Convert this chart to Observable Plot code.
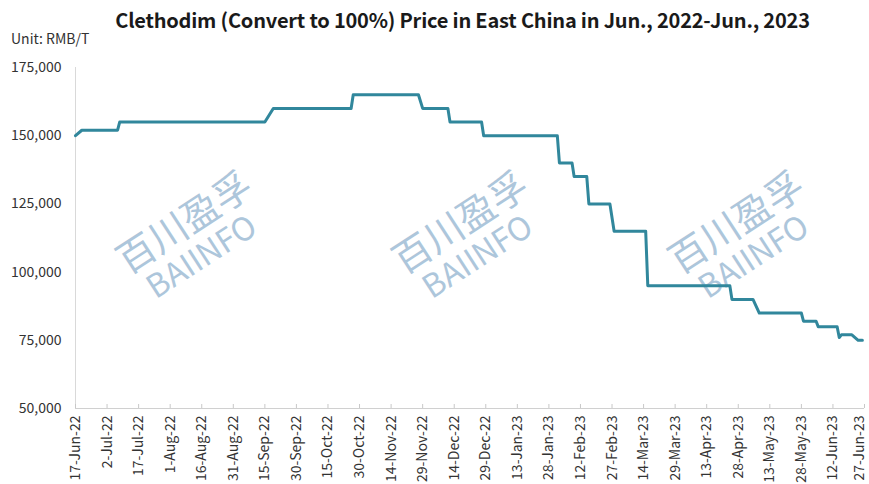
<!DOCTYPE html>
<html>
<head>
<meta charset="utf-8">
<script src="https://cdn.jsdelivr.net/npm/d3@7"></script>
<script src="https://cdn.jsdelivr.net/npm/@observablehq/plot@0.6"></script>
<style>
  html, body { margin: 0; padding: 0; background: #fff; }
  #wrap { position: relative; width: 869px; height: 484px; overflow: hidden; font-family: "Noto Sans CJK SC", "Noto Sans", sans-serif; }
  #title { position: absolute; left: 56px; width: 813px; top: 5px; text-align: center; font-size: 20px; font-weight: 700; color: #1a1a1a; letter-spacing: -0.2px; white-space: nowrap; }
  #unit { position: absolute; left: 11px; top: 28px; font-size: 14px; color: #333; }
</style>
</head>
<body>
<div id="wrap">
  <div id="chart"></div>
  <div id="title">Clethodim (Convert to 100%) Price in East China in Jun., 2022-Jun., 2023</div>
  <div id="unit">Unit: RMB/T</div>
</div>
<script>
// ---- data ----
const dates = ["2022-06-17","2022-06-20","2022-07-07","2022-07-08","2022-09-15","2022-09-19","2022-10-26","2022-10-27","2022-11-27","2022-11-29","2022-12-11","2022-12-12","2022-12-27","2022-12-28","2023-02-01","2023-02-02","2023-02-08","2023-02-09","2023-02-15","2023-02-16","2023-02-26","2023-02-28","2023-03-15","2023-03-16","2023-04-24","2023-04-25","2023-05-05","2023-05-08","2023-05-28","2023-05-29","2023-06-04","2023-06-05","2023-06-14","2023-06-15","2023-06-16","2023-06-21","2023-06-24","2023-06-26"];
const prices = [150000,152000,152000,155000,155000,160000,160000,165000,165000,160000,160000,155000,155000,150000,150000,140000,140000,135000,135000,125000,125000,115000,115000,95000,95000,90000,90000,85000,85000,82000,82000,80000,80000,76000,77000,77000,75000,75000];
const xTickLabels = ["17-Jun-22","2-Jul-22","17-Jul-22","1-Aug-22","16-Aug-22","31-Aug-22","15-Sep-22","30-Sep-22","15-Oct-22","30-Oct-22","14-Nov-22","29-Nov-22","14-Dec-22","29-Dec-22","13-Jan-23","28-Jan-23","12-Feb-23","27-Feb-23","14-Mar-23","29-Mar-23","13-Apr-23","28-Apr-23","13-May-23","28-May-23","12-Jun-23","27-Jun-23"];
const yTicks = [50000, 75000, 100000, 125000, 150000, 175000];

const parseTick = d3.utcParse("%d-%b-%y");
const fmtTick = d3.utcFormat("%-d-%b-%y");
const xTicks = xTickLabels.map(parseTick);
const data = dates.map((d, i) => ({date: d3.utcParse("%Y-%m-%d")(d), price: prices[i]}));

const font = '"Noto Sans CJK SC", "Noto Sans", sans-serif';
const axisOpts = {tickFormat: fmtTick, tickRotate: -90, tickSize: 0, tickPadding: 7, fontSize: 14, fill: "#333", label: null};

const chart = Plot.plot({
  width: 869,
  height: 484,
  marginLeft: 75,
  marginRight: 5,
  marginTop: 67,
  marginBottom: 76,
  style: {fontFamily: font, fontSize: "14px", color: "#333", background: "#fff"},
  x: {type: "utc", domain: [xTicks[0], xTicks[xTicks.length - 1]]},
  y: {domain: [50000, 175000]},
  marks: [
    Plot.ruleX([xTicks[0]], {y1: 50000, y2: 175000, stroke: "#d9d9d9", strokeWidth: 1}),
    Plot.ruleY([50000], {stroke: "#d0d0d0", strokeWidth: 1}),
    Plot.ruleX(xTicks, {y1: 50000, y2: 50000, insetBottom: 4, stroke: "#c8c8c8"}),
    Plot.axisY({ticks: yTicks, tickSize: 0, tickPadding: 14, tickFormat: d3.format(","), fontSize: 14, fill: "#333", label: null}),
    Plot.axisX({...axisOpts, ticks: xTicks.slice(0, -1)}),
    Plot.axisX({...axisOpts, ticks: xTicks.slice(-1), dx: -5}),
    Plot.line(data, {x: "date", y: "price", stroke: "#31879c", strokeWidth: 3, strokeLinejoin: "round", strokeLinecap: "round"})
  ]
});
document.getElementById("chart").appendChild(chart);

// ---- watermark (decorative) ----
const svg = d3.select(chart);
const wm = svg.insert("g", "g").attr("fill", "#adc6db").attr("font-family", font);
for (let k = 0; k <= 2; k++) {
  const g = wm.append("g").attr("transform", `translate(${193 + 276 * k},236) rotate(-33)`);
  g.append("text").attr("text-anchor", "middle").attr("dominant-baseline", "central").attr("y", -19)
    .attr("font-size", 38).attr("font-weight", 400).text("百川盈孚");
  g.append("text").attr("text-anchor", "middle").attr("dominant-baseline", "central").attr("y", 19).attr("x", -4)
    .attr("font-size", 32).attr("font-weight", 400).text("BAIINFO");
}
</script>
</body>
</html>
